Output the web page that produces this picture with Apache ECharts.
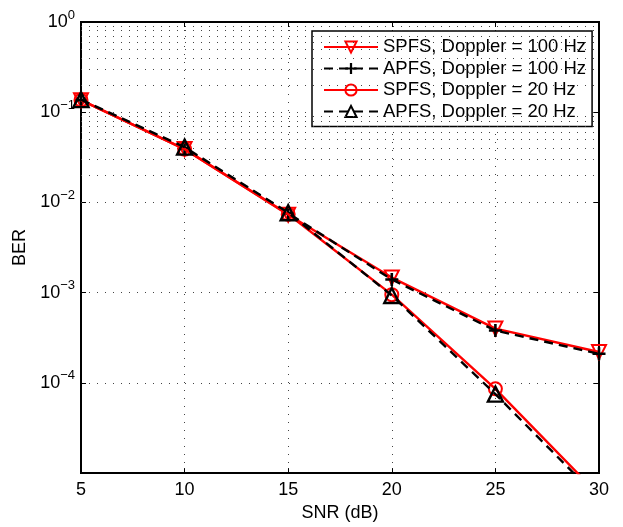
<!DOCTYPE html>
<html>
<head>
<meta charset="utf-8">
<script src="https://cdn.jsdelivr.net/npm/echarts@6/dist/echarts.min.js"></script>
<style>html,body{margin:0;padding:0;background:#fff;}#c{width:623px;height:527px;}</style>
</head>
<body>
<div id="c"></div>
<script>
var snr = [5, 10, 15, 20, 25, 30];
var spfs100 = [0.136, 0.039, 0.0073, 0.00147, 0.00040, 0.00022];
var apfs100 = [0.136, 0.040, 0.0076, 0.00140, 0.00038, 0.00021];
var spfs20 = [0.136, 0.039, 0.0074, 0.00095, 0.000086, 0.0000057];
var apfs20 = [0.138, 0.041, 0.0077, 0.00093, 0.000075, 0.0000052];
var seriesNames = ['SPFS, Doppler = 100 Hz', 'APFS, Doppler = 100 Hz', 'SPFS, Doppler = 20 Hz', 'APFS, Doppler = 20 Hz'];
var xTicks = [5, 10, 15, 20, 25, 30];
var yExponents = [0, -1, -2, -3, -4];
var minorMantissas = [2, 3, 4, 5, 6, 7, 8, 9];
var minorDecades = [-5, -4, -3, -2, -1];

function pairs(ys) { return snr.map(function (x, i) { return [x, ys[i]]; }); }

var minorLines = [];
minorDecades.forEach(function (d) {
  minorMantissas.forEach(function (m) { minorLines.push({ yAxis: m * Math.pow(10, d) }); });
});

var FONT = 'Liberation Sans';
var DOT = { color: '#444', type: [1, 7], width: 1 };
var plusPath = 'path://M4,0H6V4H10V6H6V10H4V6H0V4H4Z';

var chart = echarts.init(document.getElementById('c'));
chart.setOption({
  animation: false,
  textStyle: { fontFamily: FONT },
  grid: { left: 81, right: 24, top: 22, bottom: 51, show: true, borderColor: '#000', borderWidth: 2, backgroundColor: '#fff' },
  legend: {
    orient: 'vertical', left: 312, top: 31,
    data: seriesNames,
    itemWidth: 54, itemHeight: 14, itemGap: 1.5,
    padding: [6, 6, 5, 11],
    borderColor: '#000', borderWidth: 1.5, backgroundColor: '#fff',
    textStyle: { fontFamily: FONT, fontSize: 18.5, color: '#000', lineHeight: 20 }
  },
  xAxis: [{
    type: 'value', min: 5, max: 30, interval: 5,
    name: 'SNR (dB)', nameLocation: 'middle', nameGap: 28,
    nameTextStyle: { fontFamily: FONT, fontSize: 18, color: '#000' },
    axisLine: { show: true, lineStyle: { color: '#000', width: 2 } },
    axisTick: { show: true, inside: true, length: 5, lineStyle: { color: '#000' } },
    axisLabel: { fontFamily: FONT, fontSize: 18, color: '#000', margin: 8 },
    splitLine: { show: true, lineStyle: DOT }
  }, {
    type: 'value', min: 5, max: 30, interval: 5, position: 'top',
    axisLine: { show: true, lineStyle: { color: '#000', width: 2 } },
    axisTick: { show: true, inside: true, length: 5, lineStyle: { color: '#000' } },
    axisLabel: { show: false }, splitLine: { show: false }
  }],
  yAxis: [{
    type: 'log', logBase: 10, min: 1e-5, max: 1,
    name: 'BER', nameLocation: 'middle', nameGap: 52, nameRotate: 90,
    nameTextStyle: { fontFamily: FONT, fontSize: 18, color: '#000' },
    axisLine: { show: true, lineStyle: { color: '#000', width: 2 } },
    axisTick: { show: true, inside: true, length: 5, lineStyle: { color: '#000' } },
    axisLabel: {
      fontFamily: FONT, color: '#000', margin: 6,
      formatter: function (v) {
        var e = Math.round(Math.log10(v));
        if (yExponents.indexOf(e) < 0) return '';
        return '{b|10}{s|' + (e === 0 ? '0' : '\u2212' + (-e)) + '}';
      },
      rich: {
        b: { fontFamily: FONT, fontSize: 18, color: '#000' },
        s: { fontFamily: FONT, fontSize: 13, color: '#000', padding: [0, 0, 14, 0] }
      }
    },
    splitLine: { show: true, lineStyle: DOT }
  }, {
    type: 'log', logBase: 10, min: 1e-5, max: 1, position: 'right',
    axisLine: { show: true, lineStyle: { color: '#000', width: 2 } },
    axisTick: { show: true, inside: true, length: 5, lineStyle: { color: '#000' } },
    axisLabel: { show: false }, splitLine: { show: false }
  }],
  series: [{
    name: seriesNames[0], type: 'line', data: pairs(spfs100), z: 3,
    symbol: 'triangle', symbolRotate: 180, symbolSize: 14,
    lineStyle: { color: '#ff0000', width: 2.4, type: 'solid' },
    itemStyle: { color: 'rgba(255,255,255,0)', borderColor: '#ff0000', borderWidth: 2 },
    markLine: {
      silent: true, symbol: 'none', label: { show: false }, animation: false,
      lineStyle: DOT,
      data: minorLines
    }
  }, {
    name: seriesNames[1], type: 'line', data: pairs(apfs100), z: 4,
    symbol: plusPath, symbolSize: 13,
    lineStyle: { color: '#000', width: 2.4, type: [9, 6] },
    itemStyle: { color: '#000', borderWidth: 0 }
  }, {
    name: seriesNames[2], type: 'line', data: pairs(spfs20), z: 5,
    symbol: 'circle', symbolSize: 13,
    lineStyle: { color: '#ff0000', width: 2.4, type: 'solid' },
    itemStyle: { color: 'rgba(255,255,255,0)', borderColor: '#ff0000', borderWidth: 2 }
  }, {
    name: seriesNames[3], type: 'line', data: pairs(apfs20), z: 6,
    symbol: 'triangle', symbolSize: 15,
    lineStyle: { color: '#000', width: 2.4, type: [9, 6] },
    itemStyle: { color: 'rgba(255,255,255,0)', borderColor: '#000', borderWidth: 2.4 }
  }]
});
</script>
</body>
</html>
